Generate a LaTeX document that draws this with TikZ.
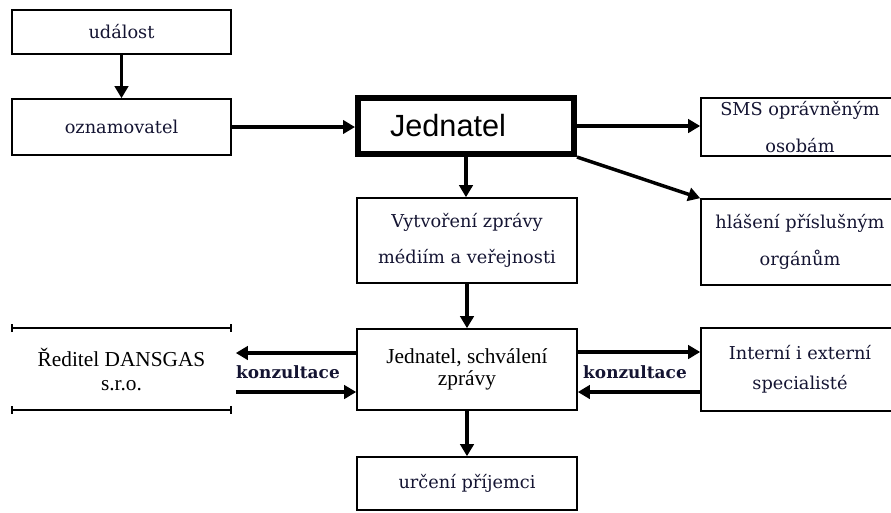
\documentclass[tikz,border=0pt]{standalone}
\usepackage{amsmath}
\usepackage{fontspec}
\setmainfont{Liberation Serif}
\newfontfamily\cambria{DejaVu Serif}
\newfontfamily\arial{Liberation Sans}
\usetikzlibrary{arrows.meta,calc}

\tikzset{
  box/.style={draw, line width=1.2pt, align=center, inner ysep=0pt,
    text={rgb,255:red,20;green,20;blue,50},
    font=\cambria\fontsize{13.3}{27.5}\selectfont},
  tbox/.style={box, text=black, font=\fontsize{16}{17}\selectfont},
  conn/.style={line width=2.6pt, -{Triangle[length=9pt,width=10pt]}},
  tick/.style={line width=1.3pt, {Bar[width=6pt]}-{Bar[width=6pt]}},
  konz/.style={text={rgb,255:red,20;green,20;blue,50},
    font=\cambria\bfseries\fontsize{12.7}{15}\selectfont}
}

\begin{document}
\begin{tikzpicture}[x=0.75pt,y=0.75pt,yscale=-1,xscale=1]
\useasboundingbox (0,0) rectangle (891,512);
\clip (0,0) rectangle (891,512);

%Shape: Rectangle [id:udalost]
\node [box, minimum width=164.25pt, minimum height=33pt] (udalost) at (121.5,32) {událost};
%Shape: Rectangle [id:oznamovatel]
\node [box, minimum width=164.25pt, minimum height=42pt] (oznam) at (121.5,127) {oznamovatel};
%Shape: Rectangle [id:jednatel]
\node [draw, line width=4.5pt, minimum width=162pt, minimum height=42pt,
  font=\arial\fontsize{23}{26}\selectfont] (jednatel) at (466,126) {Jednatel\hspace*{27pt}};
%Shape: Rectangle [id:sms]
\node [box, minimum width=148.5pt, minimum height=43.5pt] (sms) at (800,127) {SMS oprávněným\\osobám};
%Shape: Rectangle [id:hlaseni]
\node [box, minimum width=148.5pt, minimum height=64.5pt] (hlaseni) at (800,242) {hlášení příslušným\\orgánům};
%Shape: Rectangle [id:zprava]
\node [box, minimum width=165pt, minimum height=63.75pt] (zprava) at (467,240.5) {Vytvoření zprávy\\médiím a veřejnosti};
%Shape: Rectangle [id:schvaleni]
\node [tbox, minimum width=165pt, minimum height=60.75pt] (schvaleni) at (467,369.5) {Jednatel, schválení\\zprávy};
%Shape: Rectangle [id:prijemci]
\node [box, minimum width=165pt, minimum height=39.75pt] (prijemci) at (467,483.5) {určení příjemci};
%Shape: Rectangle [id:reditel]
\node [tbox, draw=none, minimum width=164.25pt, minimum height=60pt, font=\fontsize{16}{18}\selectfont] (reditel) at (121.5,369) {Ředitel DANSGAS\\s.r.o.};
\draw [tick] (reditel.north west) -- (reditel.north east) ;
\draw [tick] (reditel.south west) -- (reditel.south east) ;
%Shape: Rectangle [id:specialiste]
\node [box, minimum width=148.5pt, minimum height=62.25pt, font=\cambria\fontsize{13.3}{22.5}\selectfont] (spec) at (800,369.5) {Interní i externí\\specialisté};

%Text Nodes
\node [konz] (konzL) at (288,372) {konzultace};
\node [konz] (konzR) at (635,372) {konzultace};

%Straight Lines
\draw [conn] (udalost) -- (oznam) ;
\draw [conn] (oznam.east) -- (oznam.east -| jednatel.west) ;
\draw [conn] (jednatel.east) -- (jednatel.east -| sms.west) ;
\draw [conn] (jednatel.south east) -- (hlaseni.north west) ;
\draw [conn] (jednatel.south) -- (jednatel.south |- zprava.north) ;
\draw [conn] (zprava) -- (schvaleni) ;
\draw [conn] (schvaleni) -- (prijemci) ;
%konzultace
\draw [conn, shorten >=3pt] ($(schvaleni.west)+(0,-16.5)$) -- ($(reditel.east)+(0,-16)$) ;
\draw [conn] ($(reditel.east)+(4,23)$) -- ($(schvaleni.west)+(0,22.5)$) ;
\draw [conn] ($(schvaleni.east)+(0,-17.5)$) -- ($(spec.west)+(0,-17.5)$) ;
\draw [conn] ($(spec.west)+(0,22.5)$) -- ($(schvaleni.east)+(0,22.5)$) ;

\end{tikzpicture}
\end{document}
